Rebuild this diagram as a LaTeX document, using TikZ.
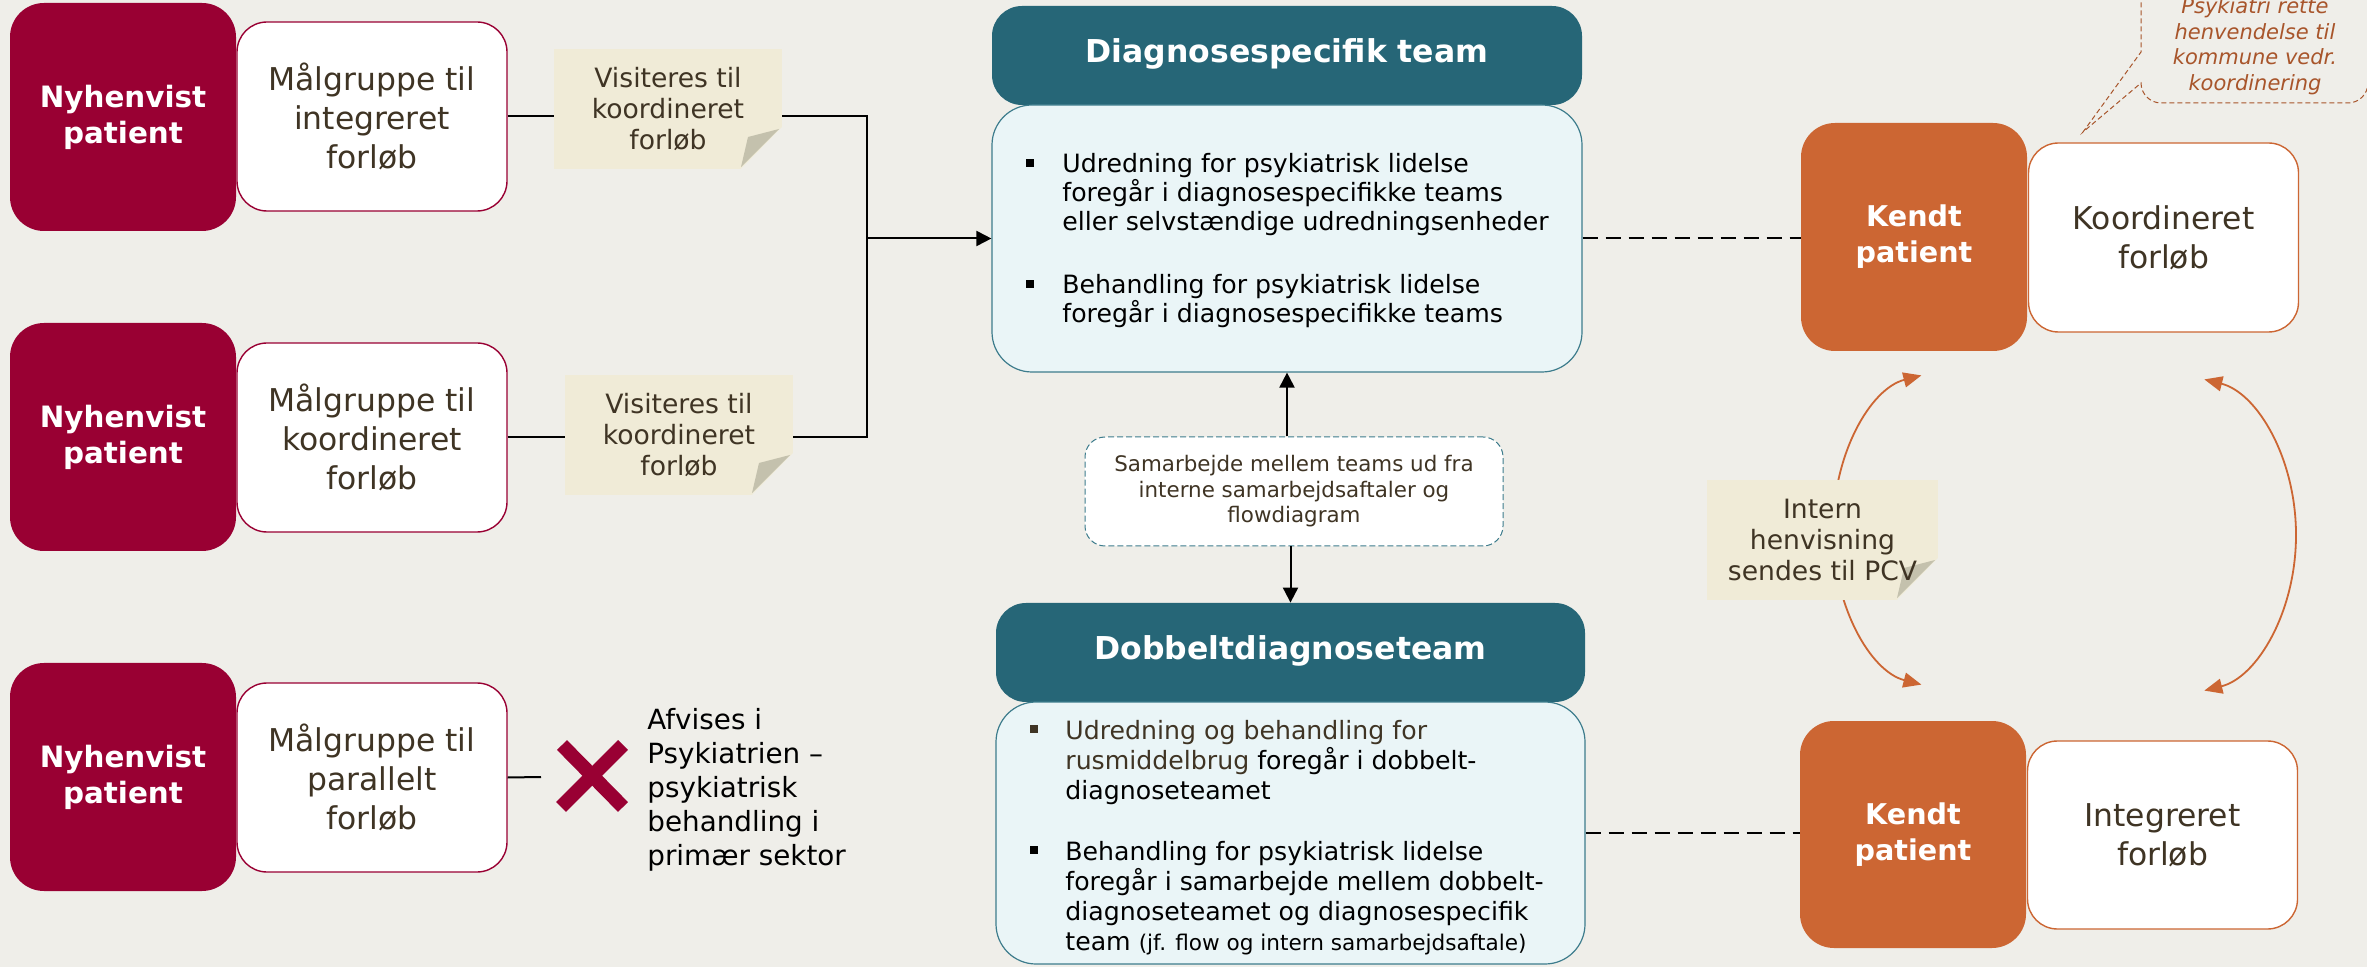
\documentclass[tikz,border=0pt]{standalone}
\usepackage{fontspec}
\setmainfont{DejaVu Sans}
\usetikzlibrary{arrows.meta,calc}
\definecolor{bgc}{HTML}{EFEEE9}
\definecolor{maroon}{HTML}{990033}
\definecolor{brownt}{HTML}{3F3424}
\definecolor{tealh}{HTML}{266677}
\definecolor{tealb}{HTML}{3D7C8C}
\definecolor{lightb}{HTML}{EAF5F7}
\definecolor{notec}{HTML}{F0EBD7}
\definecolor{foldc}{HTML}{C4C1AD}
\definecolor{orng}{HTML}{CC6633}
\definecolor{callc}{HTML}{A8552B}
\begin{document}
\begin{tikzpicture}[x=0.5pt,y=-0.5pt,
  pat/.style={fill=maroon, rounded corners=17pt, minimum width=113pt, minimum height=114pt,
    text=white, font=\bfseries\fontsize{14.7}{17.9}\selectfont, align=center, inner sep=0pt},
  kendt/.style={pat, fill=orng, font=\bfseries\fontsize{14.3}{18}\selectfont},
  grp/.style={fill=white, draw=maroon, line width=0.7pt, rounded corners=15pt, minimum width=135pt,
    minimum height=94.5pt, text=brownt, font=\fontsize{15.7}{19.5}\selectfont, align=center, inner sep=0pt},
  ogrp/.style={grp, draw=orng},
  note/.style={fill=notec, minimum width=114pt, minimum height=60pt, inner sep=0pt, text=brownt,
    font=\fontsize{13.3}{15.6}\selectfont, align=center,
    path picture={
      \fill[bgc] ([yshift=21pt]path picture bounding box.south east) -- ([xshift=-20.5pt]path picture bounding box.south east)
        -- ([xshift=2pt,yshift=-2pt]path picture bounding box.south east) -- cycle;
      \fill[foldc] ([xshift=-1.5pt,yshift=20pt]path picture bounding box.south east)
        -- ([xshift=-17pt,yshift=16pt]path picture bounding box.south east)
        -- ([xshift=-20.5pt,yshift=1pt]path picture bounding box.south east) -- cycle;}},
  head/.style={fill=tealh, rounded corners=15pt, minimum width=295pt, minimum height=49.5pt,
    text=white, font=\bfseries\fontsize{15.75}{18}\selectfont, inner sep=0pt, text height=0.95em, text depth=0.24em},
  body/.style={fill=lightb, draw=tealb, line width=0.6pt, rounded corners=20pt, minimum width=295pt, inner sep=0pt},
  bul/.style={fill=black, minimum size=3.6pt, inner sep=0pt},
  btext/.style={anchor=base west, align=left, inner sep=0pt, text=black, font=\fontsize{12.6}{14.5}\selectfont},
  samar/.style={fill=white, draw=tealb, line width=0.5pt, dash pattern=on 3pt off 1.5pt, rounded corners=10pt,
    minimum width=209pt, minimum height=54.5pt, inner sep=0pt, align=center, text=brownt,
    font=\fontsize{10.7}{12.75}\selectfont},
  conn/.style={draw=black, line width=1pt},
  arr/.style={conn, -{Triangle[length=7.5pt,width=7.5pt]}},
  dashline/.style={draw=black, line width=1pt, dash pattern=on 7.5pt off 4pt},
  xmark/.style={draw=maroon, line width=7pt, line cap=butt},
  oarc/.style={draw=orng, line width=0.9pt, {Triangle[length=9pt,width=7.5pt]}-{Triangle[length=9pt,width=7.5pt]}},
  callout/.style={draw=callc, line width=0.5pt, dash pattern=on 2.5pt off 1.5pt},
  calltext/.style={text=callc, font=\itshape\fontsize{10.5}{12.75}\selectfont, align=center, inner sep=0pt},
  afv/.style={anchor=west, align=left, inner sep=0pt, text=black, font=\fontsize{13.9}{17}\selectfont}
]
\useasboundingbox (0,0) rectangle (2367,967);
\clip (0,0) rectangle (2367,967);
\fill[bgc] (0,0) rectangle (2367,967);

% left column
\node[grp] (mg1) at (372,116.5) {Målgruppe til\\integreret\\forløb};
\node[grp] (mg2) at (372,437.5) {Målgruppe til\\koordineret\\forløb};
\node[grp] (mg3) at (372,777.5) {Målgruppe til\\parallelt\\forløb};
\node[pat] (ny1) at (123,117) {Nyhenvist\\patient};
\node[pat] (ny2) at (123,437) {Nyhenvist\\patient};
\node[pat] (ny3) at (123,777) {Nyhenvist\\patient};

\node[note] (vis1) at (668,109) {Visiteres til\\koordineret\\forløb};
\node[note] (vis2) at (679,435) {Visiteres til\\koordineret\\forløb};

\coordinate (jn) at (867,238.5);
\draw[conn] (mg1.east) -- (mg1.east -| vis1.west);
\draw[conn] (mg1.east -| vis1.east) -| (jn);
\draw[conn] (mg2.east) -- (mg2.east -| vis2.west);
\draw[conn] (mg2.east -| vis2.east) -| (jn);

% rejected
\coordinate (xl) at (541,777);
\draw[conn] (mg3.east) -- (xl);
\coordinate (xm) at (592,776);
\draw[xmark] ($(xm)+(-30,-31)$) -- ($(xm)+(31,31)$);
\draw[xmark] ($(xm)+(31,-31)$) -- ($(xm)+(-31,31)$);
\node[afv] (afv) at (647,790) {Afvises i\\Psykiatrien –\\psykiatrisk\\behandling i\\primær sektor};

% diagnosespecifik team
\node[head] (dhead) at (1287,55.5) {Diagnosespecifik team};
\node[body, minimum height=133.5pt] (dbody) at (1287,238.5) {};
\node[bul] (db1) at (1030,163) {};
\node[btext] (dt1) at (1062,231) {Udredning for psykiatrisk lidelse\\foregår i diagnosespecifikke teams\\eller selvstændige udredningsenheder};
\node[bul] (db2) at (1030,284) {};
\node[btext] (dt2) at (1062,323) {Behandling for psykiatrisk lidelse\\foregår i diagnosespecifikke teams};

\draw[arr] (jn) -- (jn -| dbody.west);

% samarbejde
\node[samar] (samar) at (1294,491.5) {Samarbejde mellem teams ud fra\\interne samarbejdsaftaler og\\flowdiagram};

% dobbeltdiagnoseteam
\node[head, minimum width=294.5pt] (bhead) at (1290.5,652.5) {Dobbeltdiagnoseteam};
\node[body, minimum width=294.5pt, minimum height=131pt] (bbody) at (1290.5,833) {};
\node[bul, fill=brownt] (bb1) at (1034,729) {};
\node[btext, font=\fontsize{12.6}{15}\selectfont] (bt1) at (1065,799) {{\color{brownt}Udredning og behandling for}\\{\color{brownt}rusmiddelbrug} foregår i dobbelt-\\diagnoseteamet};
\node[bul] (bb2) at (1034,850) {};
\node[btext, font=\fontsize{12.6}{15}\selectfont] (bt2) at (1065,950) {Behandling for psykiatrisk lidelse\\foregår i samarbejde mellem dobbelt-\\diagnoseteamet og diagnosespecifik\\team {\fontsize{10.8}{15}\selectfont (jf. flow og intern samarbejdsaftale)}};

\draw[arr] (samar.north -| dbody.south) -- (dbody.south);
\draw[arr] (samar.south -| bhead.north) -- (bhead.north);

% right side
\node[ogrp] (koord) at (2163.5,237.5) {Koordineret\\forløb};
\node[ogrp, minimum height=94pt] (integ) at (2162.5,835) {Integreret\\forløb};
\node[kendt] (kendt1) at (1914,237) {Kendt\\patient};
\node[kendt, minimum height=113.5pt] (kendt2) at (1913,834.5) {Kendt\\patient};

\draw[dashline] (dbody.east) -- (dbody.east -| kendt1.west);
\draw[dashline] (bbody.east) -- (bbody.east -| kendt2.west);

% orange arcs
\draw[oarc] (1921.4,375.4) .. controls (1870.3,388.6) and (1833,453.9) .. (1833,530)
  .. controls (1833,606.1) and (1870.3,671.4) .. (1921.4,684.6);
\draw[oarc] (2204.3,379.4) .. controls (2257.3,392.7) and (2296,458.4) .. (2296,535)
  .. controls (2296,611.6) and (2257.3,677.3) .. (2204.3,690.6);

\node[note, minimum width=115.5pt] (pcv) at (1822.5,540) {Intern\\henvisning\\sendes til PCV};

% callout
\coordinate (ctip) at (2083,132);
\draw[callout] (2368,-40) -- (2368,83) .. controls (2368,94) and (2359,103) .. (2348,103) -- (2161,103)
  .. controls (2150,103) and (2141,94) .. (2141,83) -- (ctip) -- (2141,52) -- (2141,-40);
\node[calltext] (ct) at (2255,46) {Psykiatri rette\\henvendelse til\\kommune vedr.\\koordinering};
\end{tikzpicture}
\end{document}
